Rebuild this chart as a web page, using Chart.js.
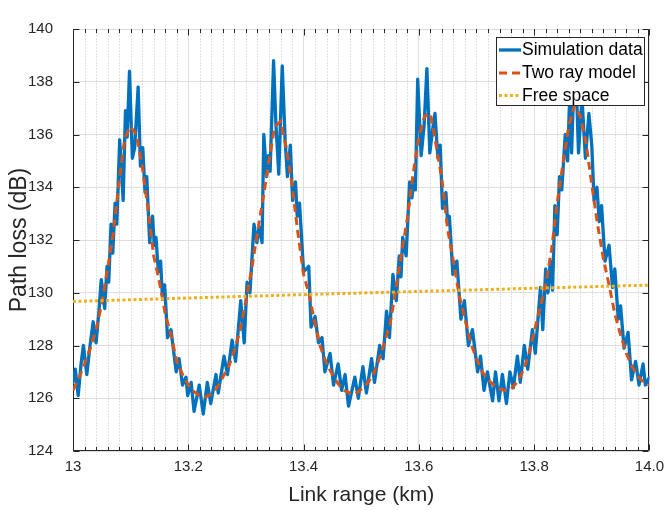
<!DOCTYPE html>
<html>
<head>
<meta charset="utf-8">
<script src="https://cdn.jsdelivr.net/npm/chart.js@4.4.1/dist/chart.umd.min.js"></script>
<style>
  html, body { margin: 0; padding: 0; background: #ffffff; }
  #wrap { width: 671px; height: 510px; }
</style>
</head>
<body>
<div id="wrap"><canvas id="plot" width="671" height="510"></canvas></div>
<script>
// Axis tick labels
const rangeTicks = ['13', '13.2', '13.4', '13.6', '13.8', '14.0'];
const lossTicks = ['124', '126', '128', '130', '132', '134', '136', '138', '140'];
const seriesNames = ['Simulation data', 'Two ray model', 'Free space'];

// Simulated path loss (km, dB)
const simKm = [
  13.000, 13.004, 13.009, 13.014, 13.018, 13.024, 13.029, 13.035, 13.040, 13.045,
  13.049, 13.055, 13.059, 13.062, 13.066, 13.069, 13.073, 13.076, 13.081, 13.087,
  13.091, 13.094, 13.098, 13.103, 13.107, 13.113, 13.117, 13.121, 13.125, 13.128,
  13.133, 13.138, 13.141, 13.144, 13.148, 13.152, 13.155, 13.159, 13.164, 13.170,
  13.179, 13.184, 13.190, 13.196, 13.199, 13.205, 13.210, 13.219, 13.226, 13.233,
  13.239, 13.248, 13.252, 13.262, 13.268, 13.276, 13.282, 13.291, 13.297, 13.302,
  13.307, 13.314, 13.319, 13.323, 13.328, 13.331, 13.336, 13.339, 13.342, 13.348,
  13.352, 13.357, 13.363, 13.368, 13.372, 13.377, 13.381, 13.386, 13.389, 13.393,
  13.400, 13.409, 13.413, 13.420, 13.426, 13.432, 13.437, 13.446, 13.452, 13.460,
  13.466, 13.472, 13.478, 13.489, 13.495, 13.503, 13.509, 13.518, 13.523, 13.532,
  13.538, 13.544, 13.549, 13.555, 13.561, 13.566, 13.569, 13.572, 13.578, 13.584,
  13.588, 13.591, 13.594, 13.598, 13.604, 13.609, 13.614, 13.619, 13.624, 13.628,
  13.633, 13.637, 13.641, 13.647, 13.650, 13.653, 13.659, 13.666, 13.673, 13.679,
  13.686, 13.693, 13.702, 13.707, 13.713, 13.719, 13.728, 13.733, 13.739, 13.745,
  13.752, 13.758, 13.764, 13.771, 13.776, 13.783, 13.789, 13.797, 13.802, 13.811,
  13.815, 13.820, 13.824, 13.828, 13.832, 13.836, 13.840, 13.844, 13.848, 13.854,
  13.858, 13.862, 13.865, 13.871, 13.877, 13.883, 13.889, 13.895, 13.900, 13.904,
  13.909, 13.913, 13.917, 13.923, 13.930, 13.936, 13.940, 13.946, 13.950, 13.956,
  13.963, 13.969, 13.976, 13.982, 13.989, 13.993, 14.000
];
const simDb = [
  126.6, 127.1, 126.1, 127.3, 128.0, 126.9, 127.9, 128.9, 128.1, 129.3,
  130.5, 129.4, 131.0, 130.4, 132.6, 131.5, 133.4, 132.6, 135.8, 133.5,
  136.9, 135.9, 138.4, 135.1, 135.5, 137.8, 134.8, 135.5, 133.8, 134.4,
  131.9, 132.9, 131.8, 132.1, 130.8, 131.2, 129.9, 130.3, 128.3, 128.6,
  127.0, 127.5, 126.5, 126.8, 126.1, 126.6, 125.5, 126.5, 125.4, 126.6,
  125.8, 126.9, 126.2, 127.6, 126.9, 128.2, 127.4, 129.7, 128.1, 130.4,
  130.0, 132.6, 131.9, 132.5, 131.9, 136.0, 134.4, 135.2, 134.6, 138.8,
  136.4, 134.5, 138.6, 135.8, 134.4, 135.6, 133.5, 134.2, 132.9, 133.4,
  130.8, 131.0, 128.7, 129.1, 128.1, 128.3, 127.0, 127.7, 126.5, 127.3,
  126.3, 126.9, 125.7, 126.8, 126.0, 127.2, 126.2, 127.5, 126.6, 128.0,
  127.5, 129.3, 128.3, 130.7, 129.7, 131.4, 130.6, 132.1, 131.4, 134.2,
  133.6, 134.3, 133.9, 138.1, 135.2, 136.3, 138.5, 135.3, 136.2, 136.8,
  135.1, 135.6, 133.2, 133.8, 132.6, 132.9, 130.7, 131.2, 129.0, 129.7,
  128.0, 128.6, 127.0, 127.6, 126.3, 127.0, 125.9, 127.0, 125.9, 126.9,
  125.8, 127.0, 126.4, 127.6, 126.6, 128.0, 127.1, 128.6, 127.7, 130.2,
  128.6, 130.9, 130.0, 131.2, 130.1, 133.3, 132.2, 134.4, 133.9, 136.0,
  135.0, 137.6, 135.3, 139.4, 135.3, 137.4, 135.1, 136.8, 135.6, 133.5,
  134.0, 132.7, 133.3, 131.2, 131.8, 130.2, 130.9, 129.0, 129.5, 127.9,
  128.5, 126.7, 127.4, 126.5, 127.3, 126.5, 126.8
];

// Two ray model (km, dB)
const twoRayKm = [
  13.00, 13.01, 13.02, 13.03, 13.04, 13.05, 13.06, 13.07, 13.08, 13.09,
  13.10, 13.11, 13.12, 13.13, 13.14, 13.15, 13.16, 13.17, 13.18, 13.19,
  13.20, 13.21, 13.22, 13.23, 13.24, 13.25, 13.26, 13.27, 13.28, 13.29,
  13.30, 13.31, 13.32, 13.33, 13.34, 13.35, 13.36, 13.37, 13.38, 13.39,
  13.40, 13.41, 13.42, 13.43, 13.44, 13.45, 13.46, 13.47, 13.48, 13.49,
  13.50, 13.51, 13.52, 13.53, 13.54, 13.55, 13.56, 13.57, 13.58, 13.59,
  13.60, 13.61, 13.62, 13.63, 13.64, 13.65, 13.66, 13.67, 13.68, 13.69,
  13.70, 13.71, 13.72, 13.73, 13.74, 13.75, 13.76, 13.77, 13.78, 13.79,
  13.80, 13.81, 13.82, 13.83, 13.84, 13.85, 13.86, 13.87, 13.88, 13.89,
  13.90, 13.91, 13.92, 13.93, 13.94, 13.95, 13.96, 13.97, 13.98, 13.99,
  14.00
];
const twoRayDb = [
  126.3, 126.75, 127.3, 127.9, 128.6, 129.6, 130.9, 132.3, 134.2, 135.9,
  136.3, 136.0, 134.8, 133.2, 131.4, 130.4, 129.2, 128.4, 127.4, 126.9,
  126.5, 126.25, 126.1, 126.05, 126.15, 126.4, 126.8, 127.2, 127.8, 128.6,
  129.7, 130.9, 132.3, 133.6, 135.0, 136.3, 136.5, 135.5, 134.1, 132.3,
  130.7, 129.9, 128.8, 127.9, 127.3, 126.9, 126.55, 126.3, 126.2, 126.15,
  126.35, 126.55, 126.85, 127.4, 128.1, 128.8, 130.1, 131.5, 132.8, 134.5,
  135.9, 136.7, 136.8, 135.6, 134.3, 132.4, 131.2, 129.9, 129.0, 128.1,
  127.5, 127.0, 126.7, 126.5, 126.35, 126.3, 126.35, 126.6, 127.0, 127.6,
  128.5, 129.4, 130.3, 131.6, 133.4, 134.9, 136.3, 137.1, 136.7, 135.7,
  134.1, 132.6, 131.3, 130.3, 129.2, 128.4, 127.7, 127.2, 126.85, 126.6,
  126.5
];

// Free space path loss (km, dB)
const freeKm = [13.0, 13.2, 13.4, 13.6, 13.8, 14.0];
const freeDb = [129.67, 129.80, 129.93, 130.05, 130.17, 130.29];

const AXIS_COLOR = '#262626';
const FONT = "'Liberation Sans', Arial, Helvetica, sans-serif";
Chart.defaults.font.family = FONT;

const toPoints = (xs, ys) => xs.map((x, i) => ({ x: x, y: ys[i] }));

// Minor grid, axes box with inward ticks, and an in-plot legend
const axesBox = {
  id: 'axesBox',
  beforeDatasetsDraw(chart) {
    const ctx = chart.ctx;
    const a = chart.chartArea;
    const xs = chart.scales.x;
    const ys = chart.scales.y;
    const L = Math.round(a.left) + 0.5, R = Math.round(a.right) - 0.5;
    const T = Math.round(a.top) + 0.5, B = Math.round(a.bottom) - 0.5;
    ctx.save();
    // minor vertical grid (every 0.02 km)
    ctx.strokeStyle = '#c2c2c2';
    ctx.lineWidth = 1;
    ctx.setLineDash([1, 2]);
    for (let i = 1; i < 50; i++) {
      if (i % 10 === 0) continue;
      const px = Math.round(xs.getPixelForValue(13 + i * 0.02)) + 0.5;
      ctx.beginPath(); ctx.moveTo(px, T); ctx.lineTo(px, B); ctx.stroke();
    }
    ctx.setLineDash([]);
    // axes lines
    ctx.strokeStyle = AXIS_COLOR;
    ctx.lineWidth = 1;
    ctx.beginPath();
    ctx.moveTo(L, T); ctx.lineTo(L, B); ctx.lineTo(R, B); ctx.lineTo(R, T);
    ctx.stroke();
    // x ticks, bottom and top, pointing inward
    for (let i = 0; i <= 50; i++) {
      const len = (i % 10 === 0) ? 6 : 3.5;
      const px = Math.round(xs.getPixelForValue(13 + i * 0.02)) + 0.5;
      ctx.beginPath();
      ctx.moveTo(px, B); ctx.lineTo(px, B - len);
      ctx.moveTo(px, T - 0.5); ctx.lineTo(px, T + len);
      ctx.stroke();
    }
    // y ticks, left and right
    for (let v = 124; v <= 140; v += 2) {
      const py = Math.round(ys.getPixelForValue(v)) + 0.5;
      ctx.beginPath();
      ctx.moveTo(L, py); ctx.lineTo(L + 6, py);
      ctx.moveTo(R, py); ctx.lineTo(R - 6, py);
      ctx.stroke();
    }
    ctx.restore();
  },
  afterDatasetsDraw(chart) {
    const ctx = chart.ctx;
    const box = { x: 496.5, y: 37.5, w: 148, h: 68 };
    ctx.save();
    ctx.fillStyle = '#ffffff';
    ctx.fillRect(box.x, box.y, box.w, box.h);
    ctx.strokeStyle = AXIS_COLOR;
    ctx.lineWidth = 1;
    ctx.strokeRect(box.x, box.y, box.w, box.h);
    const rows = [50, 73, 95.5];
    [0, 1, 2].forEach((di, r) => {
      const ds = chart.data.datasets[di];
      ctx.strokeStyle = ds.borderColor;
      ctx.lineWidth = ds.borderWidth;
      ctx.lineCap = 'butt';
      ctx.setLineDash(ds.borderDash || []);
      ctx.beginPath();
      ctx.moveTo(499, rows[r]); ctx.lineTo(521, rows[r]);
      ctx.stroke();
      ctx.setLineDash([]);
      ctx.fillStyle = '#000000';
      ctx.font = '17.5px ' + FONT;
      ctx.textBaseline = 'middle';
      ctx.textAlign = 'left';
      ctx.fillText(ds.label, 522, rows[r] + 0.5);
    });
    ctx.restore();
  }
};

new Chart(document.getElementById('plot'), {
  type: 'line',
  data: {
    datasets: [
      {
        label: seriesNames[0],
        data: toPoints(simKm, simDb),
        borderColor: '#0072BD',
        borderWidth: 3.3,
        borderJoinStyle: 'round',
        borderCapStyle: 'round',
        order: 3
      },
      {
        label: seriesNames[1],
        data: toPoints(twoRayKm, twoRayDb),
        borderColor: '#D95319',
        borderWidth: 3,
        borderDash: [8, 5],
        order: 2
      },
      {
        label: seriesNames[2],
        data: toPoints(freeKm, freeDb),
        borderColor: '#EDB120',
        borderWidth: 3,
        borderDash: [3, 2.5],
        order: 1
      }
    ]
  },
  options: {
    responsive: false,
    animation: false,
    devicePixelRatio: 1,
    layout: { padding: { left: 0, right: 18, top: 16, bottom: 2 } },
    elements: { point: { radius: 0 }, line: { tension: 0, fill: false } },
    plugins: { legend: { display: false }, tooltip: { enabled: false } },
    scales: {
      x: {
        type: 'linear',
        min: 13, max: 14,
        ticks: {
          stepSize: 0.2,
          autoSkip: false,
          maxRotation: 0,
          padding: 7,
          color: AXIS_COLOR,
          font: { size: 15 },
          callback: (v, i) => rangeTicks[i]
        },
        grid: { color: '#dfdfdf', lineWidth: 1, drawTicks: false },
        border: { display: false },
        title: {
          display: true,
          text: 'Link range (km)',
          color: AXIS_COLOR,
          font: { size: 21 },
          padding: { top: 0, bottom: 0 }
        },
        afterFit(scale) { scale.height = 57; }
      },
      y: {
        type: 'linear',
        min: 124, max: 140,
        ticks: {
          stepSize: 2,
          padding: 20,
          color: AXIS_COLOR,
          font: { size: 15 },
          callback: (v, i) => lossTicks[i]
        },
        grid: { color: '#dfdfdf', lineWidth: 1, drawTicks: false },
        border: { display: false },
        title: {
          display: true,
          text: 'Path loss (dB)',
          color: AXIS_COLOR,
          font: { size: 23 },
          padding: { top: 6, bottom: 0 }
        },
        afterFit(scale) { scale.width = 73; }
      }
    }
  },
  plugins: [axesBox]
});
</script>
</body>
</html>
